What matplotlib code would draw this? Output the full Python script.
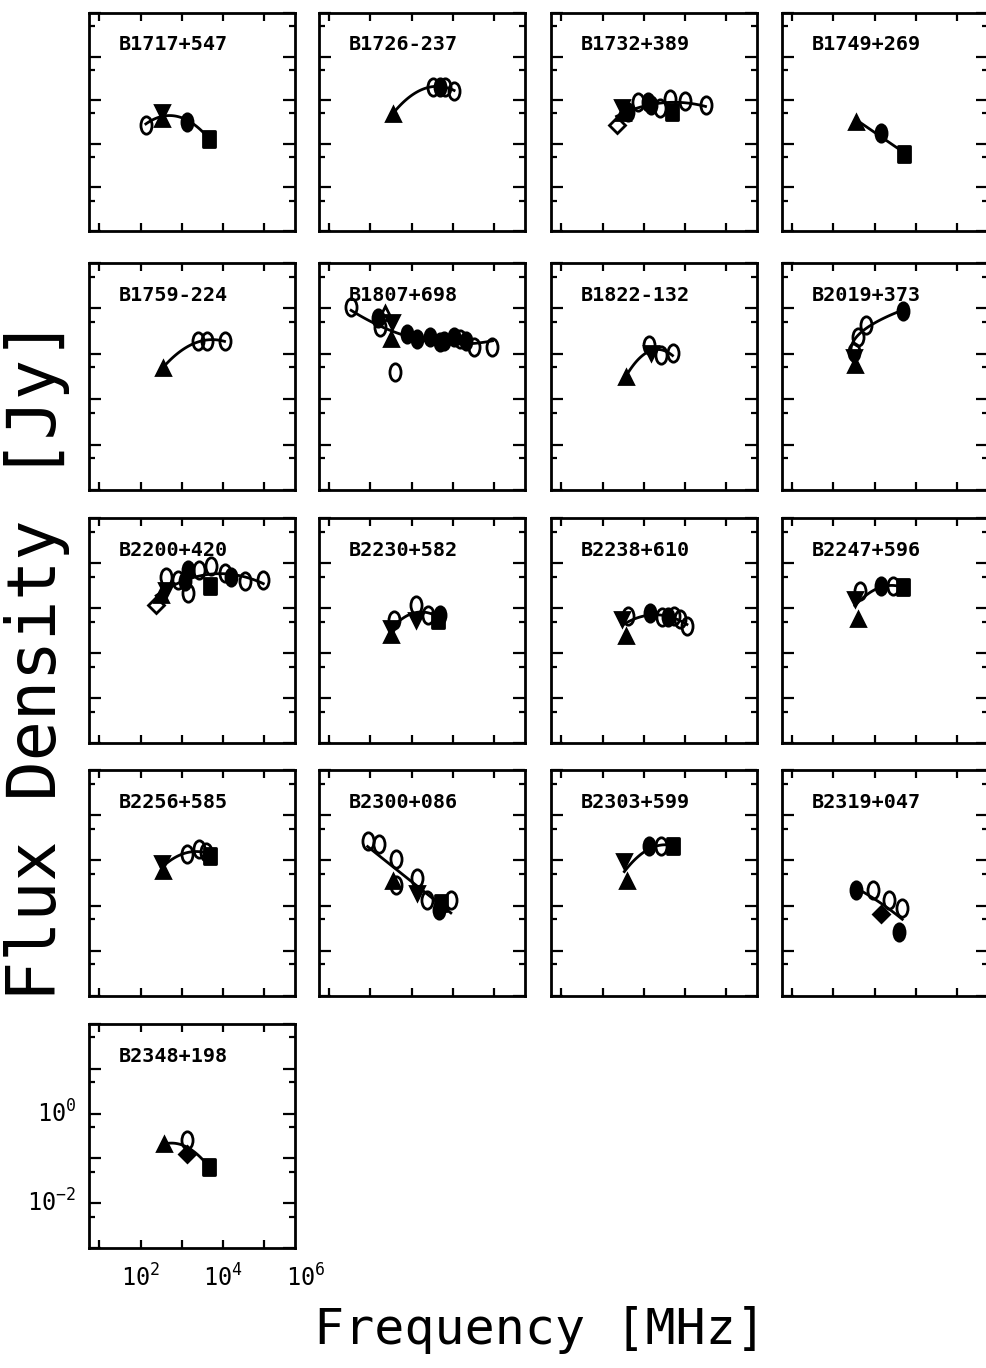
import numpy as np
import matplotlib.pyplot as plt
from matplotlib.path import Path
from matplotlib.transforms import Affine2D
from matplotlib.ticker import LogLocator, NullLocator

plt.rcParams['font.family'] = 'DejaVu Sans Mono'
plt.rcParams['mathtext.fontset'] = 'custom'
plt.rcParams['mathtext.rm'] = 'DejaVu Sans Mono'
plt.rcParams['mathtext.it'] = 'DejaVu Sans Mono'

names = ['B1717+547', 'B1726-237', 'B1732+389', 'B1749+269',
         'B1759-224', 'B1807+698', 'B1822-132', 'B2019+373',
         'B2200+420', 'B2230+582', 'B2238+610', 'B2247+596',
         'B2256+585', 'B2300+086', 'B2303+599', 'B2319+047',
         'B2348+198']

# log10(freq / MHz), log10(flux / Jy), symbol per point
b1717_nu = [2.13, 2.52, 2.52, 3.14, 3.67]
b1717_s = [-0.56, -0.27, -0.44, -0.49, -0.88]
b1717_m = ['oo', 'v', '^', 'of', 's']

b1726_nu = [2.54, 3.52, 3.68, 3.80, 4.03]
b1726_s = [-0.31, 0.31, 0.31, 0.31, 0.22]
b1726_m = ['^', 'oo', 'of', 'oo', 'oo']

b1732_nu = [2.34, 2.48, 2.50, 2.61, 2.85, 3.11, 3.17, 3.40, 3.64, 3.68, 4.01, 4.50]
b1732_s = [-0.56, -0.16, -0.30, -0.28, -0.03, -0.03, -0.10, -0.19, 0.03, -0.26, -0.01, -0.11]
b1732_m = ['Do', 'v', '^', 'of', 'oo', 'of', 'of', 'oo', 'oo', 's', 'oo', 'oo']

b1749_nu = [2.55, 3.15, 3.70]
b1749_s = [-0.49, -0.75, -1.24]
b1749_m = ['^', 'of', 's']

b1759_nu = [2.54, 3.39, 3.62, 4.04]
b1759_s = [-0.31, 0.28, 0.28, 0.28]
b1759_m = ['^', 'oo', 'oo', 'oo']

b1807_nu = [1.53, 2.18, 2.22, 2.35, 2.51, 2.49, 2.59, 2.88, 3.12, 3.45, 3.69,
            3.78, 4.02, 4.18, 4.31, 4.51, 4.96]
b1807_s = [1.04, 0.78, 0.59, 0.89, 0.70, 0.33, -0.41, 0.44, 0.33, 0.37, 0.26,
           0.29, 0.37, 0.33, 0.29, 0.14, 0.14]
b1807_m = ['oo', 'of', 'oo', 'to', 'v', '^', 'oo', 'of', 'of', 'of', 'of',
           'of', 'of', 'oo', 'of', 'oo', 'oo']

b1822_nu = [2.57, 3.13, 3.17, 3.42, 3.70]
b1822_s = [-0.51, 0.20, 0.01, -0.03, 0.01]
b1822_m = ['^', 'oo', 'v', 'oo', 'oo']

b2019_nu = [2.60, 2.50, 2.50, 2.52, 2.78, 3.68]
b2019_s = [0.38, 0.05, -0.06, -0.24, 0.64, 0.94]
b2019_m = ['oo', 'oo', 'v', '^', 'oo', 'of']

b2200_nu = [2.38, 2.50, 2.62, 2.62, 2.91, 3.15, 3.07, 3.15, 3.43, 3.72, 3.68,
            4.04, 4.20, 4.53, 4.98]
b2200_s = [0.07, 0.30, 0.41, 0.70, 0.63, 0.85, 0.59, 0.33, 0.85, 0.93, 0.48,
           0.78, 0.70, 0.59, 0.63]
b2200_m = ['Do', '^', 'v', 'oo', 'oo', 'of', 'of', 'oo', 'oo', 'oo', 's',
           'oo', 'of', 'oo', 'oo']

b2230_nu = [2.50, 2.50, 2.58, 3.11, 3.11, 3.39, 3.64, 3.68]
b2230_s = [-0.59, -0.44, -0.26, 0.07, -0.26, -0.15, -0.26, -0.15]
b2230_m = ['^', 'v', 'oo', 'oo', 'v', 'oo', 's', 'of']

b2238_nu = [2.58, 2.48, 2.61, 3.16, 3.44, 3.60, 3.73, 3.89, 4.05]
b2238_s = [-0.62, -0.25, -0.18, -0.10, -0.21, -0.21, -0.18, -0.25, -0.40]
b2238_m = ['^', 'v', 'oo', 'of', 'oo', 'of', 'oo', 'oo', 'oo']

b2247_nu = [2.60, 2.52, 2.64, 3.16, 3.44, 3.68]
b2247_s = [-0.25, 0.20, 0.38, 0.49, 0.49, 0.46]
b2247_m = ['^', 'v', 'oo', 'of', 'oo', 's']

b2256_nu = [2.51, 2.55, 3.12, 3.41, 3.60, 3.69]
b2256_s = [-0.05, -0.24, 0.14, 0.25, 0.18, 0.10]
b2256_m = ['v', '^', 'oo', 'oo', 'oo', 's']

b2300_nu = [1.93, 2.21, 2.62, 2.54, 2.62, 3.14, 3.14, 3.38, 3.67, 3.70, 3.95]
b2300_s = [0.44, 0.36, 0.02, -0.46, -0.54, -0.39, -0.73, -0.88, -1.10, -0.95, -0.88]
b2300_m = ['oo', 'oo', 'oo', '^', 'oo', 'oo', 'v', 'oo', 'of', 's', 'oo']

b2303_nu = [2.53, 2.59, 3.13, 3.41, 3.70]
b2303_s = [-0.01, -0.46, 0.32, 0.32, 0.32]
b2303_m = ['v', '^', 'of', 'oo', 's']

b2319_nu = [2.55, 2.95, 3.35, 3.15, 3.67, 3.59]
b2319_s = [-0.65, -0.65, -0.88, -1.18, -1.06, -1.59]
b2319_m = ['of', 'oo', 'oo', 'Df', 'oo', 'of']

b2348_nu = [2.57, 3.13, 3.13, 3.67]
b2348_s = [-0.68, -0.60, -0.90, -1.20]
b2348_m = ['^', 'oo', 'Df', 's']

# degree of the log-log fit in each panel; negative = fit log(nu) against log(S)
fit_deg = [2, 2, 2, 1, 2, 2, 2, -2, 2, 2, 2, 2, 2, 1, 2, 2, 2]

all_nu = [b1717_nu, b1726_nu, b1732_nu, b1749_nu, b1759_nu, b1807_nu, b1822_nu,
          b2019_nu, b2200_nu, b2230_nu, b2238_nu, b2247_nu, b2256_nu, b2300_nu,
          b2303_nu, b2319_nu, b2348_nu]
all_s = [b1717_s, b1726_s, b1732_s, b1749_s, b1759_s, b1807_s, b1822_s,
         b2019_s, b2200_s, b2230_s, b2238_s, b2247_s, b2256_s, b2300_s,
         b2303_s, b2319_s, b2348_s]
all_m = [b1717_m, b1726_m, b1732_m, b1749_m, b1759_m, b1807_m, b1822_m,
         b2019_m, b2200_m, b2230_m, b2238_m, b2247_m, b2256_m, b2300_m,
         b2303_m, b2319_m, b2348_m]

ellipse = Path.unit_circle().transformed(Affine2D().scale(0.64, 1.0))
tallbox = Path.unit_rectangle().transformed(Affine2D().translate(-0.5, -0.5).scale(0.72, 1.0))
styles = {
    'oo': dict(marker=ellipse, ms=12.5, mfc='none'),
    'of': dict(marker=ellipse, ms=12.5, mfc='k'),
    '^': dict(marker='^', ms=10, mfc='k'),
    'to': dict(marker='^', ms=10, mfc='none'),
    'v': dict(marker='v', ms=10, mfc='k'),
    'Do': dict(marker='D', ms=8, mfc='none'),
    'Df': dict(marker='D', ms=8, mfc='k'),
    's': dict(marker=tallbox, ms=11.5, mfc='k'),
}

W, H = 987, 1368
fig = plt.figure(figsize=(W / 100, H / 100), dpi=100)

col_left = [89, 319, 551, 782]
row_top = [13, 263, 518, 770, 1024]
row_h = [218, 227, 225, 226, 224]
pw = 206

for i, name in enumerate(names):
    r, c = divmod(i, 4)
    ax = fig.add_axes([col_left[c] / W, 1 - (row_top[r] + row_h[r]) / H,
                       pw / W, row_h[r] / H])
    ax.set_xscale('log')
    ax.set_yscale('log')

    lx = np.array(all_nu[i])
    ly = np.array(all_s[i])
    deg = fit_deg[i]
    if deg > 0:
        coef = np.polyfit(lx, ly, deg)
        gx = np.linspace(lx.min(), lx.max(), 120)
        gy = np.polyval(coef, gx)
    else:
        coef = np.polyfit(ly, lx, -deg)
        gy = np.linspace(ly.min(), ly.max(), 120)
        gx = np.polyval(coef, gy)
    ax.plot(10 ** gx, 10 ** gy, color='k', lw=2, zorder=2)

    for x, y, m in zip(lx, ly, all_m[i]):
        ax.plot([10 ** x], [10 ** y], ls='none', mec='k', mew=2,
                zorder=3, **styles[m])

    ax.set_xlim(10 ** 0.75, 10 ** 5.75)
    ax.set_ylim(1e-3, 1e2)
    ax.xaxis.set_major_locator(LogLocator(base=10, subs=(1.0,), numticks=20))
    ax.xaxis.set_minor_locator(NullLocator())
    ax.yaxis.set_major_locator(LogLocator(base=10, subs=(1.0,), numticks=20))
    ax.yaxis.set_minor_locator(LogLocator(base=10, subs=(5.0,), numticks=20))
    ax.tick_params(which='both', direction='in', top=True, right=True,
                   width=1.6, labelbottom=False, labelleft=False)
    ax.tick_params(axis='y', which='major', length=8.5)
    ax.tick_params(axis='y', which='minor', length=4)
    ax.tick_params(axis='x', which='major', length=5.5)
    for sp in ax.spines.values():
        sp.set_linewidth(2)

    ax.text(0.145, 0.855, name, transform=ax.transAxes, fontsize=14.5,
            fontweight='bold', ha='left', va='center')

    if i == len(names) - 1:
        for v in [2, 4, 6]:
            ax.text(10 ** v, -0.135, r'$10^{%d}$' % v,
                    transform=ax.get_xaxis_transform(),
                    ha='center', va='center', fontsize=17)
        for v in [0, -2]:
            ax.text(-0.06, 10 ** v, r'$10^{%d}$' % v,
                    transform=ax.get_yaxis_transform(),
                    ha='right', va='center', fontsize=17)

fig.text(37 / W, 1 - 660 / H, 'Flux Density [Jy]', rotation=90,
         fontsize=48, ha='center', va='center')
fig.text(540 / W, 1 - 1330 / H, 'Frequency [MHz]',
         fontsize=36, ha='center', va='center')

fig.savefig('out.png', dpi=100)
